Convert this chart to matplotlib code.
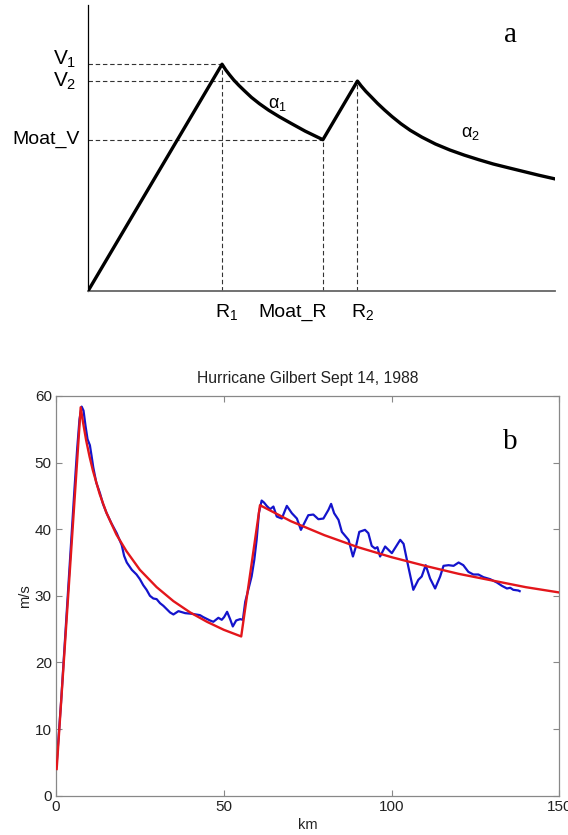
import matplotlib
matplotlib.use('Agg')
import matplotlib.pyplot as plt

plt.rcParams['font.family'] = ['Liberation Sans', 'DejaVu Sans']
plt.rcParams['mathtext.fontset'] = 'custom'
plt.rcParams['mathtext.rm'] = 'Liberation Sans'
plt.rcParams['mathtext.it'] = 'Liberation Sans'

# ---------------- panel a : schematic profile (axis units 0..100) ----------------
sketch_r = [0, 28.7, 29.5, 30.3, 31.2, 32.3, 33.5, 35.0, 36.7, 38.7, 41.0, 43.5, 46.5, 50.3,
            57.7, 58.5, 59.5, 60.7, 62.0, 63.5, 65.1, 67.0, 69.0, 71.5, 74.4, 77.5,
            80.6, 83.7, 86.8, 90.0, 93.0, 96.5, 100]
sketch_v = [0, 79.3, 77.3, 75.6, 73.8, 71.9, 70.0, 67.7, 65.5, 63.2, 60.9, 58.6, 55.9, 52.9,
            73.4, 71.7, 69.8, 67.8, 65.6, 63.3, 61.0, 58.5, 56.2, 53.8, 51.4, 49.3,
            47.5, 45.9, 44.4, 43.1, 41.9, 40.5, 39.2]

guide_r = [28.7, 50.3, 57.7]          # R1, Moat_R, R2
guide_v = [79.3, 52.9, 73.4]          # V1, Moat_V, V2
r_labels = ['$R_1$', 'Moat_R', '$R_2$']
v_labels = ['$V_1$', 'Moat_V', '$V_2$']

# ---------------- panel b : Hurricane Gilbert ----------------
obs_km = [0.3, 1.5, 3, 4.5, 5.5, 6.3, 7.0, 7.65, 8.2, 8.8, 9.4, 10.1, 10.6, 11.1,
          12.0, 13.1, 14.0, 15.1, 16.5, 18.1, 19.6, 20.3, 21.1, 22.6, 24.0, 25.0,
          26.0, 27.0, 28.0, 29.0, 30.0, 31.0, 32.0, 33.0, 34.0, 35.0, 36.5, 38.5,
          40.5, 42.9, 43.9, 45.9, 46.9, 48.4, 49.4, 50.1, 51.0, 51.9, 52.7, 53.7,
          54.9, 55.7, 56.4, 57.3, 58.3, 59.1, 59.8, 60.5, 61.3, 62.0, 62.8, 63.8,
          64.8, 65.8, 67.3, 68.8, 70.3, 71.8, 73.0, 73.7, 75.2, 76.7, 78.2, 79.7,
          81.2, 82.0, 82.9, 84.2, 85.2, 87.2, 88.5, 89.4, 90.4, 92.1, 93.1, 94.1,
          95.1, 95.8, 96.6, 98.1, 99.1, 100.1, 101.6, 102.6, 103.6, 105.0, 106.5,
          108.0, 109.0, 110.2, 111.5, 113.0, 114.5, 115.5, 117.0, 118.5, 120.0,
          121.4, 122.9, 124.4, 125.9, 127.4, 129.4, 131.4, 132.9, 134.4, 135.4,
          136.3, 137.8, 138.2]
obs_ms = [5.5, 14, 26, 38, 46, 52, 56.5, 58.4, 57.8, 55.5, 53.5, 52.6, 51.0, 49.3,
          47.0, 45.4, 43.8, 42.4, 40.9, 39.4, 37.6, 36.0, 35.0, 33.9, 33.2, 32.5,
          31.6, 30.9, 30.0, 29.6, 29.5, 28.9, 28.5, 28.0, 27.5, 27.2, 27.7, 27.4,
          27.3, 27.1, 26.8, 26.3, 26.1, 26.7, 26.4, 26.8, 27.6, 26.5, 25.4, 26.3,
          26.5, 26.4, 29.1, 30.9, 32.9, 35.4, 38.4, 42.5, 44.3, 44.0, 43.5, 43.0,
          43.4, 41.9, 41.6, 43.5, 42.4, 41.6, 39.9, 40.6, 42.1, 42.2, 41.5, 41.6,
          42.9, 43.8, 42.4, 41.4, 39.6, 38.4, 35.9, 37.4, 39.6, 39.9, 39.4, 37.5,
          37.1, 37.3, 35.9, 37.4, 36.9, 36.4, 37.6, 38.4, 37.8, 34.4, 30.9,
          32.4, 32.9, 34.6, 32.6, 31.1, 32.9, 34.5, 34.6, 34.5, 35.0,
          34.6, 33.6, 33.2, 33.2, 32.8, 32.5, 32.0, 31.5, 31.1, 31.2,
          30.9, 30.8, 30.7]

fit_km = [0.2, 7.36, 8.0, 9, 10, 11, 13, 15, 18, 21, 25, 30, 35, 40, 45, 50, 55.2,
          60.8, 70, 80, 90, 100, 110, 120, 130, 140, 150]
fit_ms = [4.0, 58.3, 56.2, 53.3, 50.9, 48.8, 45.3, 42.5, 39.2, 36.7, 33.9, 31.3,
          29.2, 27.5, 26.1, 24.9, 23.9, 43.6, 41.2, 39.1, 37.3, 35.8, 34.5, 33.3,
          32.3, 31.3, 30.5]

fig = plt.figure(figsize=(5.68, 8.35), dpi=100)

# ---------------- panel a ----------------
ax1 = fig.add_axes([0.155, 0.6515, 0.822, 0.3425])
ax1.set_xlim(0, 100)
ax1.set_ylim(0, 100)
ax1.plot(sketch_r, sketch_v, color='black', lw=2.4, solid_joinstyle='round', zorder=3)
dash = (0, (4, 2.5))
for r, v in zip(guide_r, guide_v):
    ax1.plot([0, r], [v, v], color='#333333', lw=0.8, linestyle=dash, zorder=2)
    ax1.plot([r, r], [0, v], color='#333333', lw=0.8, linestyle=dash, zorder=2)
for sp in ['top', 'right']:
    ax1.spines[sp].set_visible(False)
ax1.spines['left'].set_color('black')
ax1.spines['left'].set_linewidth(0.9)
ax1.spines['bottom'].set_color('#666666')
ax1.spines['bottom'].set_linewidth(1.3)
ax1.set_xticks([])
ax1.set_yticks([])

# y labels
ax1.text(-2.6, guide_v[0], v_labels[0], ha='right', va='baseline', fontsize=15)
ax1.text(-1.7, guide_v[1], v_labels[1], ha='right', va='center', fontsize=14)
ax1.text(-2.6, guide_v[2], v_labels[2], ha='right', va='center', fontsize=15)
# x labels
ax1.text(guide_r[0] + 1.0, -9.0, r_labels[0], ha='center', va='baseline', fontsize=14)
ax1.text(43.8, -9.0, r_labels[1], ha='center', va='baseline', fontsize=14)
ax1.text(guide_r[2] + 1.0, -9.0, r_labels[2], ha='center', va='baseline', fontsize=14)
ax1.text(40.6, 65.3, r'$\alpha_1$', ha='center', va='center', fontsize=13)
ax1.text(81.8, 55.0, r'$\alpha_2$', ha='center', va='center', fontsize=13)
ax1.text(90.4, 89.5, 'a', ha='center', va='center', fontsize=21,
         family=['Liberation Serif', 'DejaVu Serif'])

# ---------------- panel b ----------------
ax2 = fig.add_axes([0.0986, 0.0471, 0.886, 0.4787])
ax2.plot(obs_km, obs_ms, color='#1414cc', lw=1.6, zorder=2)
ax2.plot(fit_km, fit_ms, color='#e3161b', lw=1.7, zorder=3)
ax2.set_xlim(0, 150)
ax2.set_ylim(0, 60)
ax2.set_xticks([0, 50, 100, 150])
ax2.set_yticks([0, 10, 20, 30, 40, 50, 60])
ax2.tick_params(direction='in', length=4, width=0.8, color='#888888',
                top=True, right=True, labelsize=11, labelcolor='#222222', pad=3)
for sp in ax2.spines.values():
    sp.set_color('#888888')
    sp.set_linewidth(0.9)
ax2.set_title('Hurricane Gilbert Sept 14, 1988', fontsize=11.3, color='#222222', pad=9)
ax2.set_xlabel('km', fontsize=10.5, color='#222222', labelpad=3)
ax2.set_ylabel('m/s', fontsize=10.5, color='#222222', labelpad=2)
ax2.text(135.4, 53.1, 'b', ha='center', va='center', fontsize=21,
         family=['Liberation Serif', 'DejaVu Serif'])

fig.savefig('out.png', dpi=100)
